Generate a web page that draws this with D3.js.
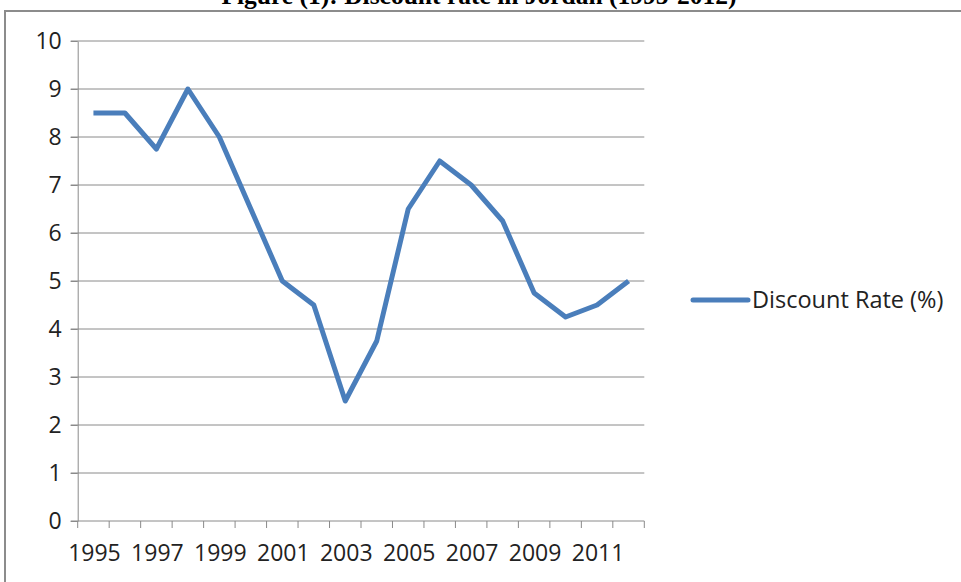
<!DOCTYPE html>
<html lang="en">
  <head>
    <meta charset="UTF-8">
    <title>Discount rate in Jordan</title>
    <style>
body{
    margin: 0;
    background: #fff;
}
svg{
    display: block;
}
    </style>
  </head>
  <body>
    <script src="https://cdn.jsdelivr.net/npm/d3@7/dist/d3.min.js"></script>
    <script>
var years = [1995, 1996, 1997, 1998, 1999, 2000, 2001, 2002, 2003, 2004, 2005, 2006, 2007, 2008, 2009, 2010, 2011, 2012];
var discountRate = [8.5, 8.5, 7.75, 9.0, 8.0, 6.5, 5.0, 4.5, 2.5, 3.75, 6.5, 7.5, 7.0, 6.25, 4.75, 4.25, 4.5, 5.0];
var yTicks = [0, 1, 2, 3, 4, 5, 6, 7, 8, 9, 10];
var seriesName = "Discount Rate (%)";
var title = "Figure (1): Discount rate in Jordan (1995-2012)";

var width = 961, height = 582;
var plotLeft = 77.7, plotRight = 644.3, plotTop = 41, plotBottom = 521;
var font = "'Open Sans', Lato, sans-serif";
var axisColor = "#8a8a8a";

var svg = d3.select("body").append("svg")
            .attr("width", width)
            .attr("height", height);

// title, partly cut off by the top edge
svg.append("text")
   .attr("x", 479)
   .attr("y", 4)
   .attr("text-anchor", "middle")
   .attr("font-family", "'Liberation Serif', 'Times New Roman', serif")
   .attr("font-weight", "bold")
   .attr("font-size", 25.5)
   .text(title);

// chart frame
svg.append("rect")
   .attr("x", 5)
   .attr("y", 11)
   .attr("width", 1000)
   .attr("height", 1000)
   .attr("fill", "none")
   .attr("stroke", "#8c8c8c")
   .attr("stroke-width", 2);

var x = d3.scaleBand()
          .domain(years)
          .range([plotLeft, plotRight]);

var y = d3.scaleLinear()
          .domain([0, 10])
          .range([plotBottom, plotTop]);

// gridlines
svg.append("g")
   .selectAll("line")
   .data(yTicks.filter(function(d){ return d > 0; }))
   .enter().append("line")
   .attr("x1", plotLeft - 7)
   .attr("x2", plotRight)
   .attr("y1", function(d){ return y(d); })
   .attr("y2", function(d){ return y(d); })
   .attr("stroke", axisColor)
   .attr("stroke-width", 1);

// y axis
var yAxis = svg.append("g")
               .attr("transform", "translate(" + plotLeft + ",0)")
               .call(d3.axisLeft(y).tickValues(yTicks).tickSize(7).tickPadding(9).tickSizeOuter(0));
yAxis.select(".domain").attr("stroke", axisColor);
yAxis.selectAll(".tick line").attr("stroke", axisColor);
yAxis.selectAll(".tick text")
     .attr("font-family", font)
     .attr("font-size", 23)
     .attr("fill", "#222");

// x axis, ticks between categories
var boundaries = years.map(function(d){ return x(d); }).concat([plotRight]);
var xAxis = svg.append("g")
               .attr("transform", "translate(0," + plotBottom + ")");
xAxis.append("line")
     .attr("x1", plotLeft - 7)
     .attr("x2", plotRight)
     .attr("stroke", axisColor);
xAxis.selectAll("line.tick")
     .data(boundaries)
     .enter().append("line")
     .attr("class", "tick")
     .attr("x1", function(d){ return d; })
     .attr("x2", function(d){ return d; })
     .attr("y1", 0)
     .attr("y2", 7)
     .attr("stroke", axisColor);
xAxis.selectAll("text")
     .data(years.filter(function(d, i){ return i % 2 == 0; }))
     .enter().append("text")
     .attr("x", function(d){ return x(d) + x.bandwidth() / 2 + 1; })
     .attr("y", 40)
     .attr("text-anchor", "middle")
     .attr("font-family", font)
     .attr("font-size", 23)
     .attr("fill", "#222")
     .text(function(d){ return d; });

// series line
var line = d3.line()
             .x(function(d, i){ return x(years[i]) + x.bandwidth() / 2; })
             .y(function(d){ return y(d); });

svg.append("path")
   .datum(discountRate)
   .attr("d", line)
   .attr("fill", "none")
   .attr("stroke", "#4a7ebb")
   .attr("stroke-width", 5)
   .attr("stroke-linejoin", "round");

// legend
var legend = svg.append("g")
                .attr("transform", "translate(693,300)");
legend.append("line")
      .attr("x1", 0)
      .attr("x2", 55)
      .attr("stroke", "#4a7ebb")
      .attr("stroke-width", 5)
      .attr("stroke-linecap", "round");
legend.append("text")
      .attr("x", 59)
      .attr("y", 8)
      .attr("font-family", font)
      .attr("font-size", 23.5)
      .attr("fill", "#222")
      .text(seriesName);
    </script>
  </body>
</html>
